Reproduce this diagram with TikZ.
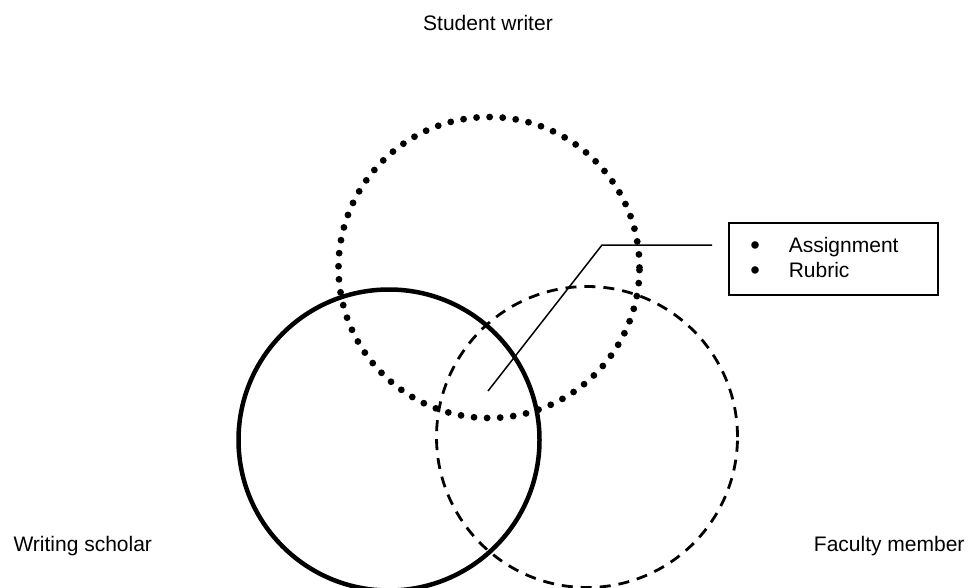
\documentclass[tikz,border=0pt]{standalone}
\usepackage{fontspec}
\setmainfont{Liberation Sans}
\usepackage{tikz}
\usetikzlibrary{positioning, calc}

\begin{document}
\begin{tikzpicture}[
    x=1pt, y=-1pt,
    ring/.style={circle, inner sep=0pt, minimum size=301pt},
    dotring/.style={ring, draw, line width=6.8pt, line cap=round, dash pattern=on 0pt off 13.1pt},
    solidring/.style={ring, draw, line width=4.5pt},
    dashring/.style={ring, draw, line width=2.8pt, dash pattern=on 11pt off 8pt},
    rolelabel/.style={font=\fontsize{21}{25}\selectfont},
    listbox/.style={rectangle, draw, line width=1.5pt, minimum height=72pt, text width=166pt,
                    inner xsep=21.5pt, inner ysep=0pt, align=left, font=\fontsize{21}{25}\selectfont},
    leader/.style={line width=1.5pt},
]
\useasboundingbox (0,0) rectangle (974,588);

% Circles
\node[dotring] (student) at (489,267.5) {};
\node[solidring] (scholar) at (389,440) {};
\node[dashring] (faculty) at (587,437) {};

% Role labels
\node[rolelabel, anchor=base] (studentlbl) at (488,31) {Student writer};
\node[rolelabel, anchor=base west] (scholarlbl) at (10,551) {Writing scholar};
\node[rolelabel, anchor=base east] (facultylbl) at (968,551) {Faculty member};

% Shared documents
\newcommand{\bigbul}{\raisebox{-2.2pt}{\scalebox{1.3}{\textbullet}}}
\node[listbox, anchor=north west] (docs) at (728,222) {%
    \bigbul\hspace{29pt}Assignment\\
    \bigbul\hspace{29pt}Rubric};

% Leader from the shared area to the box
\coordinate (tip) at (488,391);
\coordinate (bend) at (602,245);
\draw[leader, shorten >=16pt] (tip) -- (bend) -- (docs.west |- bend);

\end{tikzpicture}
\end{document}
